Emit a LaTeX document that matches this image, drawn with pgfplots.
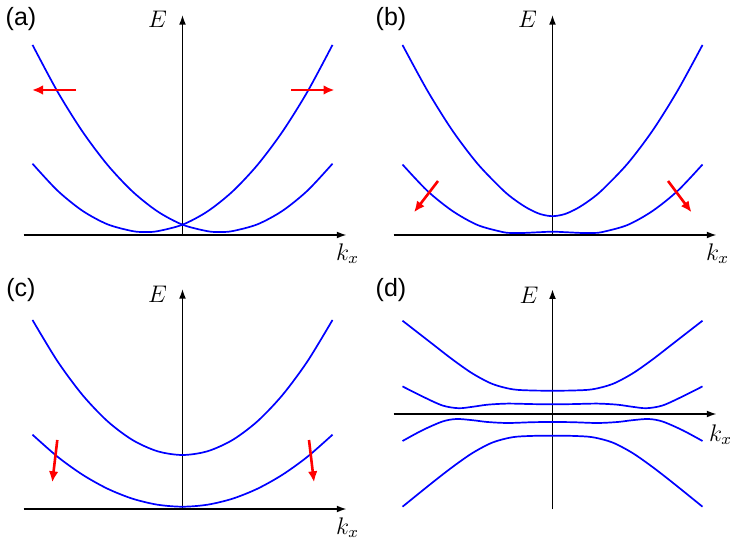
\documentclass[border=0pt]{standalone}
\usepackage{fontspec}
\setmainfont{Liberation Sans}
\usepackage{pgfplots}
\pgfplotsset{compat=1.18}
\usetikzlibrary{arrows.meta}

\newcommand{\lab}[1]{\fontsize{12}{14}\selectfont$#1$}

\pgfplotsset{
  bandax/.style={
    axis lines=middle,
    x=50pt, y=50pt,
    xmin=-1.59, xmax=1.64,
    xtick=\empty, ytick=\empty,
    axis line style={line width=0.7pt, -{Latex[length=4.8pt,width=3.4pt]}},
    clip=false,
    anchor=south west,
  },
  band/.style={blue, line width=0.85pt, smooth, no marks},
  kick/.style={red, line width=1.3pt, -{Latex[length=5.5pt,width=4.8pt]}, no marks},
}

\begin{document}
\begin{tikzpicture}
\useasboundingbox (0,0) rectangle (369pt,270pt);

% ---------------- (a)
\begin{axis}[bandax, at={(11.75pt,152.5pt)}, ymin=0, ymax=2.20]
\addplot[band] coordinates {(-1.5,0.713) (-1.25,0.444) (-1.0,0.242) (-0.75,0.107) (-0.5,0.039) (-0.37,0.030) (-0.25,0.038) (0,0.103) (0.25,0.236) (0.5,0.435) (0.75,0.701) (1.0,1.034) (1.25,1.434) (1.5,1.901)};
\addplot[band] coordinates {(-1.5,1.901) (-1.25,1.434) (-1.0,1.034) (-0.75,0.701) (-0.5,0.435) (-0.25,0.236) (0,0.103) (0.25,0.038) (0.37,0.030) (0.5,0.039) (0.75,0.107) (1.0,0.242) (1.25,0.444) (1.5,0.713)};
\addplot[kick] coordinates {(-1.065,1.45) (-1.505,1.45)};
\addplot[kick] coordinates {(1.085,1.45) (1.52,1.45)};
\node at (axis cs:-0.25,2.16) {\lab{E}};
\node at (axis cs:1.65,-0.185) {\lab{k_x}};
\end{axis}

% ---------------- (b)
\begin{axis}[bandax, at={(196.75pt,152.5pt)}, ymin=0, ymax=2.20]
\addplot[band] coordinates {(-1.5,1.90) (-1.25,1.442) (-1.0,1.043) (-0.75,0.713) (-0.5,0.453) (-0.375,0.35) (-0.25,0.268) (-0.125,0.21) (0,0.188) (0.125,0.21) (0.25,0.268) (0.375,0.35) (0.5,0.453) (0.75,0.713) (1.0,1.043) (1.25,1.442) (1.5,1.90)};
\addplot[band] coordinates {(-1.5,0.705) (-1.25,0.44) (-1.0,0.24) (-0.75,0.10) (-0.5,0.03) (-0.4,0.02) (-0.3,0.02) (-0.15,0.027) (0,0.033) (0.15,0.027) (0.3,0.02) (0.4,0.02) (0.5,0.03) (0.75,0.10) (1.0,0.24) (1.25,0.44) (1.5,0.705)};
\addplot[kick] coordinates {(-1.145,0.54) (-1.385,0.227)};
\addplot[kick] coordinates {(1.155,0.54) (1.39,0.227)};
\node at (axis cs:-0.25,2.16) {\lab{E}};
\node at (axis cs:1.65,-0.185) {\lab{k_x}};
\end{axis}

% ---------------- (c)
\begin{axis}[bandax, at={(11.75pt,15.5pt)}, ymin=0, ymax=2.20]
\addplot[band] coordinates {(-1.5,1.89) (-1.25,1.4775) (-1.0,1.14) (-0.75,0.8775) (-0.5,0.69) (-0.25,0.5775) (0,0.54) (0.25,0.5775) (0.5,0.69) (0.75,0.8775) (1.0,1.14) (1.25,1.4775) (1.5,1.89)};
\addplot[band] coordinates {(-1.5,0.743) (-1.25,0.523) (-1.0,0.343) (-0.75,0.203) (-0.5,0.103) (-0.25,0.043) (0,0.023) (0.25,0.043) (0.5,0.103) (0.75,0.203) (1.0,0.343) (1.25,0.523) (1.5,0.743)};
\addplot[kick] coordinates {(-1.252,0.69) (-1.302,0.267)};
\addplot[kick] coordinates {(1.265,0.69) (1.315,0.267)};
\node at (axis cs:-0.25,2.15) {\lab{E}};
\node at (axis cs:1.65,-0.185) {\lab{k_x}};
\end{axis}

% ---------------- (d)
\begin{axis}[bandax, at={(196.75pt,15.35pt)}, ymin=-0.953, ymax=1.247]
\addplot[band] coordinates {(-1.5,0.933) (-1.2,0.70) (-1.0,0.545) (-0.8,0.405) (-0.6,0.300) (-0.4,0.247) (-0.2,0.235) (0,0.233) (0.2,0.235) (0.4,0.247) (0.6,0.300) (0.8,0.405) (1.0,0.545) (1.2,0.70) (1.5,0.933)};
\addplot[band] coordinates {(-1.5,0.276) (-1.3,0.175) (-1.1,0.085) (-0.94,0.058) (-0.8,0.072) (-0.65,0.093) (-0.45,0.104) (-0.2,0.099) (0,0.097) (0.2,0.099) (0.45,0.104) (0.65,0.093) (0.8,0.072) (0.94,0.058) (1.1,0.085) (1.3,0.175) (1.5,0.276)};
\addplot[band] coordinates {(-1.5,-0.270) (-1.3,-0.162) (-1.1,-0.075) (-0.96,-0.050) (-0.8,-0.062) (-0.65,-0.080) (-0.45,-0.090) (-0.2,-0.082) (0,-0.080) (0.2,-0.082) (0.45,-0.090) (0.65,-0.080) (0.8,-0.062) (0.96,-0.050) (1.1,-0.075) (1.3,-0.162) (1.5,-0.270)};
\addplot[band] coordinates {(-1.5,-0.927) (-1.2,-0.685) (-1.0,-0.53) (-0.8,-0.39) (-0.6,-0.285) (-0.4,-0.232) (-0.2,-0.219) (0,-0.217) (0.2,-0.219) (0.4,-0.232) (0.6,-0.285) (0.8,-0.39) (1.0,-0.53) (1.2,-0.685) (1.5,-0.927)};
\node at (axis cs:-0.235,1.19) {\lab{E}};
\node at (axis cs:1.68,-0.205) {\lab{k_x}};
\end{axis}

\begin{scope}[every node/.style={font=\fontsize{12.5}{15}\selectfont}]
\node at (10.5pt,260.5pt) {(a)};
\node at (195.5pt,260.5pt) {(b)};
\node at (10.5pt,125pt) {(c)};
\node at (195.5pt,125pt) {(d)};
\end{scope}
\end{tikzpicture}
\end{document}
